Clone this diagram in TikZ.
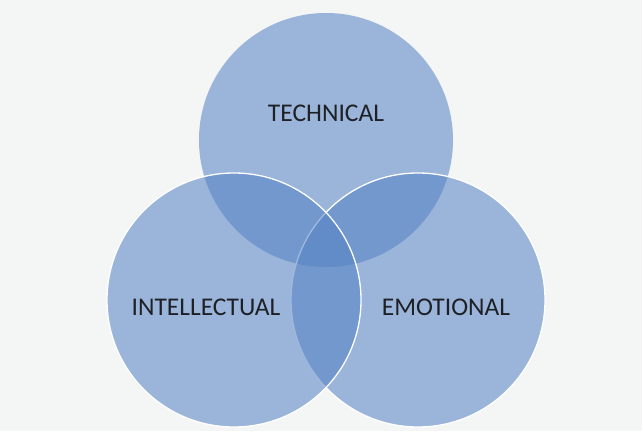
\documentclass[tikz,border=0pt]{standalone}
\usepackage{fontspec}
\setmainfont{Carlito}
\definecolor{bgc}{RGB}{244,245,245}
\definecolor{venn}{RGB}{84,131,196}
\definecolor{txt}{RGB}{30,32,38}
\begin{document}
\begin{tikzpicture}[x=1pt,y=-1pt,
  setcirc/.style={circle, minimum size=254pt, inner sep=0pt, fill=venn, fill opacity=0.56},
  outl/.style={draw=white, line width=1.3pt},
  lbl/.style={font=\fontsize{25.5}{28}\selectfont, text=txt}]
\fill[bgc] (0,0) rectangle (642,431);
\useasboundingbox (0,0) rectangle (642,431);
\node[setcirc] (tech) at (326,140) {};
\node[setcirc, outl] (emo) at (418,300) {};
\node[setcirc, outl] (intel) at (234,300) {};
\node[lbl] (tlab) at (326,113) {TECHNICAL};
\node[lbl] (ilab) at (206,307) {INTELLECTUAL};
\node[lbl] (elab) at (446,307) {EMOTIONAL};
\end{tikzpicture}
\end{document}
